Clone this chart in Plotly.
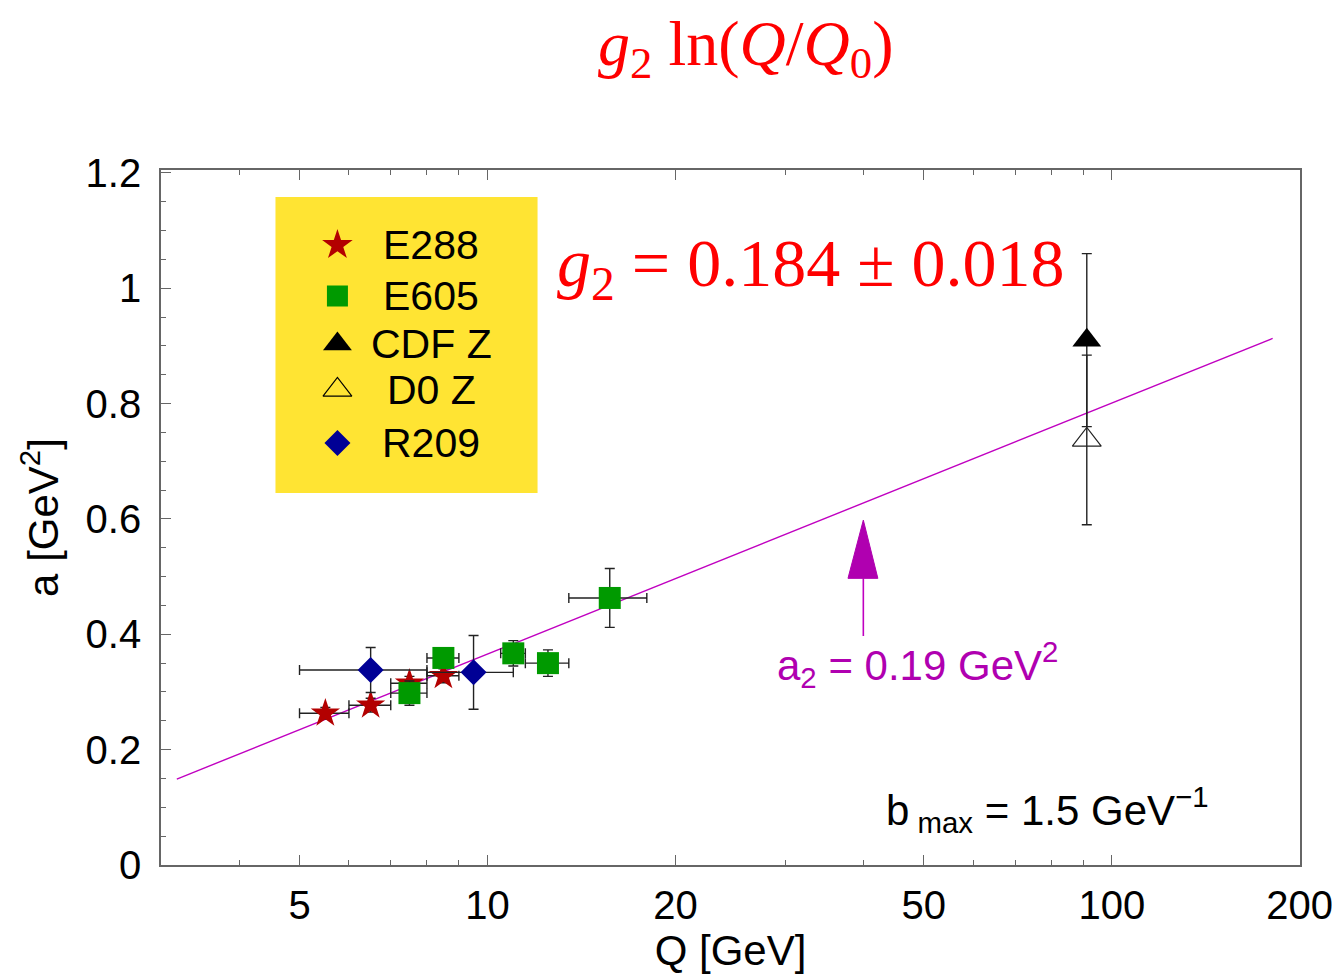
import plotly.graph_objects as go

# ---------------- data ----------------
# E288 (stars)
e288_q = [5.5, 6.5, 7.5, 8.5]
e288_a = [0.263, 0.277, 0.315, 0.328]
e288_a_err = [0.010, 0.012, 0.012, 0.012]
e288_q_err = [0.5, 0.5, 0.5, 0.5]

# E605 (squares)
e605_q = [7.5, 8.5, 11.0, 12.5, 15.7]
e605_a = [0.298, 0.359, 0.367, 0.350, 0.463]
e605_a_err = [0.021, 0.012, 0.022, 0.023, 0.051]
e605_q_minus = [0.5, 0.5, 0.5, 1.0, 2.2]
e605_q_plus = [0.5, 0.5, 0.5, 1.0, 2.3]

# CDF Z / D0 Z (triangles)
cdf_q = [91.2]
cdf_a = [0.910]
cdf_a_err = [0.150]
d0_q = [91.2]
d0_a = [0.737]
d0_a_err = [0.147]

# R209 (diamonds)
r209_q = [6.5, 9.5]
r209_a = [0.338, 0.334]
r209_a_err = [0.039, 0.064]
r209_q_err = [1.5, 1.5]

# fit line  a = a0 + g2 ln(Q/Q0)
fit_q = [3.18, 181.0]
fit_a = [0.149, 0.913]

# arrow marking a2
arrow_q = [40.0]
arrow_head_q = [37.8, 42.2]
arrow_tip = 0.598
arrow_head_base = 0.497
arrow_tail = 0.397

# axes
x_tickvals = [5, 10, 20, 50, 100, 200]
x_ticktext = ["5", "10", "20", "50", "100", "200"]
x_minor = [3, 4, 6, 7, 8, 9, 30, 40, 60, 70, 80, 90]
y_tickvals = [0, 0.2, 0.4, 0.6, 0.8, 1.0, 1.2]
y_ticktext = ["0", "0.2", "0.4", "0.6", "0.8", "1", "1.2"]

legend_names = ["E288", "E605", "CDF Z", "D0 Z", "R209"]

# ---------------- styles ----------------
RED = "#B30000"
GREEN = "#009A00"
BLUE = "#000095"
MAG = "#C000C0"
MAGTXT = "#B000B0"
SANS = "Liberation Sans, Arial, Helvetica, sans-serif"
SERIF = "Liberation Serif, Times New Roman, serif"
ERR = dict(color="#222222", thickness=1.4, width=5)

fig = go.Figure()

# fit line
fig.add_trace(go.Scatter(x=fit_q, y=fit_a, mode="lines",
                         line=dict(color=MAG, width=1.4), showlegend=False,
                         hoverinfo="skip"))

# arrow (tail + filled head)
fig.add_trace(go.Scatter(x=arrow_q * 2, y=[arrow_tail, arrow_head_base], mode="lines",
                         line=dict(color=MAG, width=1.6), showlegend=False,
                         hoverinfo="skip"))
fig.add_trace(go.Scatter(x=[arrow_head_q[0], arrow_q[0], arrow_head_q[1], arrow_head_q[0]],
                         y=[arrow_head_base, arrow_tip, arrow_head_base, arrow_head_base],
                         mode="lines", fill="toself", fillcolor=MAGTXT,
                         line=dict(color=MAGTXT, width=1), showlegend=False,
                         hoverinfo="skip"))

# data series
fig.add_trace(go.Scatter(
    x=e288_q, y=e288_a, mode="markers", name="E288",
    marker=dict(symbol="star", size=22, color=RED, line=dict(width=0)),
    error_y=dict(type="data", array=e288_a_err, **ERR),
    error_x=dict(type="data", array=e288_q_err, **ERR)))

fig.add_trace(go.Scatter(
    x=e605_q, y=e605_a, mode="markers", name="E605",
    marker=dict(symbol="square", size=22, color=GREEN, line=dict(width=0)),
    error_y=dict(type="data", array=e605_a_err, **ERR),
    error_x=dict(type="data", array=e605_q_plus, arrayminus=e605_q_minus, **ERR)))

fig.add_trace(go.Scatter(
    x=r209_q, y=r209_a, mode="markers", name="R209",
    marker=dict(symbol="diamond", size=20, color=BLUE, line=dict(width=0)),
    error_y=dict(type="data", array=r209_a_err, **ERR),
    error_x=dict(type="data", array=r209_q_err, **ERR)))

fig.add_trace(go.Scatter(
    x=d0_q, y=d0_a, mode="markers", name="D0 Z",
    marker=dict(symbol="triangle-up-open", size=25, color="#222222", line=dict(width=1.2)),
    error_y=dict(type="data", array=d0_a_err, **ERR)))

fig.add_trace(go.Scatter(
    x=cdf_q, y=cdf_a, mode="markers", name="CDF Z",
    marker=dict(symbol="triangle-up", size=25, color="black", line=dict(width=0)),
    error_y=dict(type="data", array=cdf_a_err, **ERR)))

# ---------------- custom legend (box + keys + labels) ----------------
leg_sym = ["star", "square", "triangle-up", "triangle-up-open", "diamond"]
leg_col = [RED, GREEN, "black", "black", BLUE]
leg_size = [23, 21, 25, 25, 20]
leg_y = [0.892, 0.8187, 0.7496, 0.6835, 0.6072]
leg_key_x = 0.1549
leg_txt_x = 0.2374

fig.add_shape(type="rect", xref="paper", yref="paper",
              x0=0.1005, x1=0.3306, y0=0.5353, y1=0.9612,
              fillcolor="#FFE433", line=dict(width=0), layer="below")
for sym, col, sz, yy in zip(leg_sym, leg_col, leg_size, leg_y):
    fig.add_trace(go.Scatter(x=[leg_key_x], y=[yy], xaxis="x2", yaxis="y2",
                             mode="markers", showlegend=False, hoverinfo="skip",
                             marker=dict(symbol=sym, size=sz, color=col,
                                         line=dict(width=1.2 if "open" in sym else 0))))
for name, yy in zip(legend_names, leg_y):
    fig.add_annotation(x=leg_txt_x, y=yy, xref="paper", yref="paper",
                       text=name, showarrow=False, xanchor="center", yanchor="middle",
                       font=dict(family=SANS, size=41, color="black"))

# ---------------- text annotations ----------------
fig.add_annotation(x=0.513, y=1.176, xref="paper", yref="paper", showarrow=False,
                   text="<i>g</i><sub>2</sub> ln(<i>Q</i>/<i>Q</i><sub>0</sub>)",
                   font=dict(family=SERIF, size=64, color="red"),
                   xanchor="center", yanchor="middle")
fig.add_annotation(x=0.570, y=0.860, xref="paper", yref="paper", showarrow=False,
                   text="<i>g</i><sub>2</sub> = 0.184 ± 0.018",
                   font=dict(family=SERIF, size=68, color="red"),
                   xanchor="center", yanchor="middle")
fig.add_annotation(x=0.664, y=0.288, xref="paper", yref="paper", showarrow=False,
                   text="a<sub>2</sub> = 0.19 GeV<sup>2</sup>",
                   font=dict(family=SANS, size=42, color=MAGTXT),
                   xanchor="center", yanchor="middle")
fig.add_annotation(x=0.778, y=0.080, xref="paper", yref="paper", showarrow=False,
                   text="b<sub> max</sub> = 1.5 GeV<sup>−1</sup>",
                   font=dict(family=SANS, size=42, color="black"),
                   xanchor="center", yanchor="middle")

# ---------------- layout ----------------
# the page body adds an 8 px margin, so the figure is made 8 px smaller
AXCOL = "#666666"
fig.update_layout(
    width=1332, height=966,
    margin=dict(l=153, r=40, t=162, b=109, autoexpand=False),
    paper_bgcolor="white", plot_bgcolor="white",
    showlegend=False,
    font=dict(family=SANS, size=40, color="black"),
    xaxis=dict(type="log", range=[0.4771, 2.3015], automargin=False,
               tickmode="array", tickvals=x_tickvals, ticktext=x_ticktext,
               ticks="inside", ticklen=10, tickwidth=1.2, tickcolor=AXCOL,
               minor=dict(tickmode="array", tickvals=x_minor, ticks="inside",
                          ticklen=5, tickwidth=1.2, tickcolor=AXCOL, showgrid=False),
               showline=True, linecolor=AXCOL, linewidth=1.6, mirror="ticks",
               showgrid=False, zeroline=False,
               tickfont=dict(family=SANS, size=40),
               ticklabelstandoff=4,
               title=dict(text="Q [GeV]", font=dict(family=SANS, size=42), standoff=1)),
    yaxis=dict(range=[0, 1.205], automargin=False,
               tickmode="array", tickvals=y_tickvals, ticktext=y_ticktext,
               ticks="inside", ticklen=10, tickwidth=1.2, tickcolor=AXCOL,
               minor=dict(dtick=0.05, ticks="inside", ticklen=5, tickwidth=1.2,
                          tickcolor=AXCOL, showgrid=False),
               showline=True, linecolor=AXCOL, linewidth=1.6, mirror=True,
               showgrid=False, zeroline=False,
               tickfont=dict(family=SANS, size=40),
               ticklabelstandoff=10,
               title=dict(text="a [GeV<sup>2</sup>]", font=dict(family=SANS, size=42),
                          standoff=14)),
    xaxis2=dict(overlaying="x", range=[0, 1], visible=False, fixedrange=True),
    yaxis2=dict(overlaying="y", range=[0, 1], visible=False, fixedrange=True),
)

fig.write_html("out.html")
